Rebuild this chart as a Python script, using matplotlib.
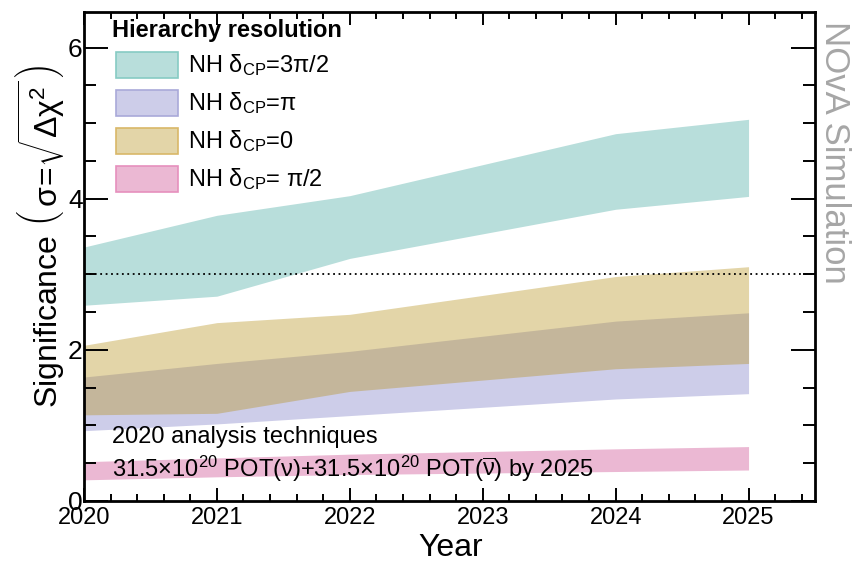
import matplotlib
matplotlib.use("Agg")
import matplotlib.pyplot as plt
from matplotlib.patches import Rectangle
from matplotlib.ticker import MultipleLocator, FixedLocator

# ---- data: significance bands for each true delta_CP (normal hierarchy) ----
years = [2020, 2021, 2022, 2024, 2025]

nh_3pi2_lo = [2.59, 2.71, 3.21, 3.86, 4.03]
nh_3pi2_hi = [3.36, 3.78, 4.04, 4.86, 5.05]

nh_pi_lo = [0.93, 1.02, 1.13, 1.35, 1.42]
nh_pi_hi = [1.64, 1.82, 1.98, 2.38, 2.49]

nh_0_lo = [1.14, 1.16, 1.45, 1.75, 1.82]
nh_0_hi = [2.06, 2.36, 2.47, 2.97, 3.10]

nh_pi2_lo = [0.28, 0.32, 0.35, 0.39, 0.41]
nh_pi2_hi = [0.52, 0.57, 0.62, 0.69, 0.72]

threshold = 3.0
year_ticks = [2020, 2021, 2022, 2023, 2024, 2025]
sig_ticks = [0, 2, 4, 6]

legend_labels = [r"NH δ$_{\mathrm{CP}}$=3π/2",
                 r"NH δ$_{\mathrm{CP}}$=π",
                 r"NH δ$_{\mathrm{CP}}$=0",
                 r"NH δ$_{\mathrm{CP}}$= π/2"]

# ---- style ----
plt.rcParams["font.family"] = ["Liberation Sans", "DejaVu Sans"]
plt.rcParams["mathtext.fontset"] = "custom"
plt.rcParams["mathtext.rm"] = "Liberation Sans"
plt.rcParams["mathtext.it"] = "Liberation Sans:italic"
plt.rcParams["mathtext.bf"] = "Liberation Sans:bold"

W, H = 855, 563
fig = plt.figure(figsize=(W / 100, H / 100), dpi=100)
fig.patch.set_facecolor("white")
ax = fig.add_axes([84 / W, 1 - 501 / H, (815 - 84) / W, (501 - 12) / H])

c_teal = "#b8dedb"
c_purple = "#cdcde9"
c_tan = (183 / 255, 147 / 255, 32 / 255, 0.39)
c_pink = "#ebb8d3"

ax.fill_between(years, nh_3pi2_lo, nh_3pi2_hi, color=c_teal, lw=0)
ax.fill_between(years, nh_pi_lo, nh_pi_hi, color=c_purple, lw=0)
ax.fill_between(years, nh_0_lo, nh_0_hi, color=c_tan, lw=0)
ax.fill_between(years, nh_pi2_lo, nh_pi2_hi, color=c_pink, lw=0)

ax.axhline(threshold, color="black", ls=(0, (1, 2)), lw=1.3)

ax.set_xlim(2020, 2025.5)
ax.set_ylim(0, 6.47)
ax.xaxis.set_major_locator(FixedLocator(year_ticks))
ax.xaxis.set_minor_locator(MultipleLocator(0.2))
ax.yaxis.set_major_locator(FixedLocator(sig_ticks))
ax.yaxis.set_minor_locator(MultipleLocator(0.5))
ax.set_xticklabels([str(y) for y in year_ticks])
ax.set_yticklabels([str(s) for s in sig_ticks])

for s in ax.spines.values():
    s.set_linewidth(2.0)
ax.tick_params(axis="both", which="both", direction="in", top=True, right=True,
               width=1.4, colors="black")
ax.tick_params(axis="x", which="major", length=9.5, pad=4, labelsize=17)
ax.tick_params(axis="x", which="minor", length=5)
ax.tick_params(axis="y", which="major", length=17, pad=1, labelsize=19)
ax.tick_params(axis="y", which="minor", length=8.5)


def fx(x):
    return x / W


def fy(y):
    return 1 - y / H


# axis titles
fig.text(fx(451), fy(548), "Year", fontsize=23, ha="center", va="center")
fig.text(fx(40), fy(236),
         r"Significance $\left(\,\mathrm{\sigma}\!=\!\sqrt{\Delta\mathrm{\chi}^{2}}\,\right)$",
         fontsize=23, rotation=90, ha="center", va="center")

# side watermark
fig.text(fx(834), fy(152), "NOvA Simulation", fontsize=25, color="#a6a6a6",
         rotation=-90, ha="center", va="center")

# legend
fig.text(fx(112), fy(31), "Hierarchy resolution", fontsize=17,
         fontweight="bold", ha="left", va="center")
face = [c_teal, c_purple, c_tan, c_pink]
edge = ["#86cbc3", "#a9a9d9", "#d9b868", "#e690bd"]
rows = [65, 103, 141, 179]
for lab, fc, ec, yc in zip(legend_labels, face, edge, rows):
    fig.add_artist(Rectangle((fx(116), fy(yc + 13)), 62 / W, 26 / H,
                             transform=fig.transFigure, facecolor=fc,
                             edgecolor=ec, lw=1.2))
    fig.text(fx(188), fy(yc), lab, fontsize=17, ha="left", va="center")

# exposure annotations
fig.text(fx(112), fy(437), "2020 analysis techniques", fontsize=17,
         ha="left", va="center")
fig.text(fx(112), fy(469),
         r"31.5×10$^{20}$ POT($\mathrm{\nu}$)+31.5×10$^{20}$ POT($\overline{\mathrm{\nu}}$) by 2025",
         fontsize=17, ha="left", va="center")

fig.savefig("out.png", dpi=100, facecolor="white")
